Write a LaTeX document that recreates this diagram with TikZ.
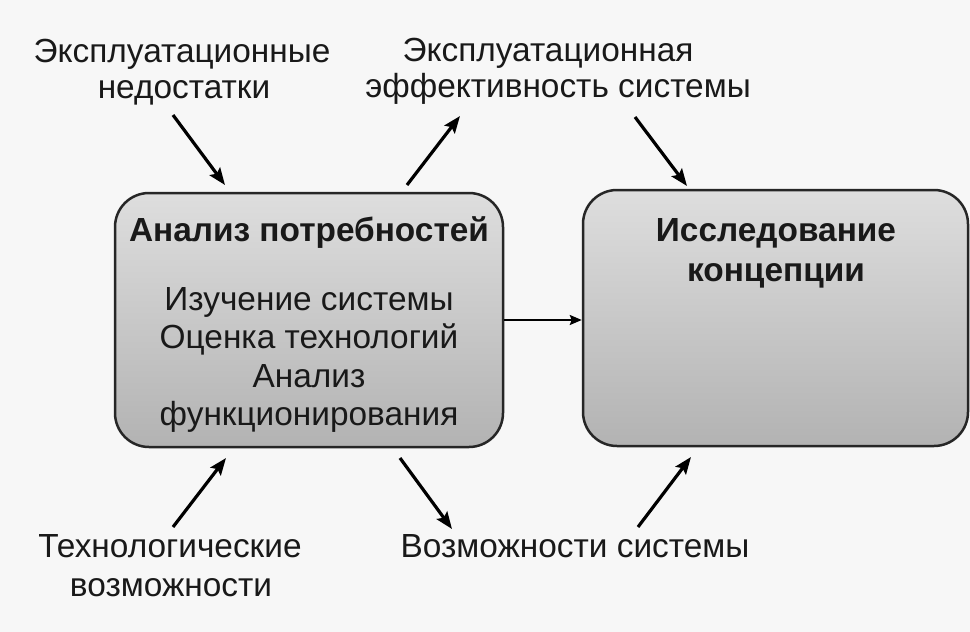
\documentclass[tikz,border=0pt]{standalone}
\usepackage{fontspec}
\setmainfont{Liberation Sans}
\usetikzlibrary{arrows.meta}

\begin{document}
\begin{tikzpicture}[x=1pt,y=-1pt,
		box/.style={draw=black!85, line width=2.5pt, rounded corners=34pt,
			top color=black!13, bottom color=black!30},
		arr/.style={line width=3.2pt, -{Stealth[length=17pt,width=13pt,inset=3pt]}},
		txt/.style={anchor=base, text=black!90, font=\fontsize{33.4}{40}\selectfont},
		head/.style={txt, font=\fontsize{33.4}{40}\selectfont\bfseries}]
	\useasboundingbox[fill=black!3] (0,0) rectangle (970,632);

	% boxes
	\node[box, minimum width=388pt, minimum height=254pt] (needs) at (309,320) {};
	\node[box, minimum width=385pt, minimum height=256pt] (concept) at (775.5,318) {};

	% box texts
	\draw	(309,241) node[head] (needstitle) {Анализ потребностей}
			(309,310) node[txt] (study) {Изучение системы}
			(309,348) node[txt] (techeval) {Оценка технологий}
			(309,387) node[txt] (analysis) {Анализ}
			(309,425) node[txt] (function) {функционирования};
	\draw	(776,241) node[head] (concepttitle) {Исследование}
			(776,281) node[head] (concepttitle2) {концепции};

	% outer labels
	\draw	(182,62) node[txt] (faults) {Эксплуатационные}
			(184,98) node[txt] (faults2) {недостатки};
	\draw	(548,61) node[txt] (effect) {Эксплуатационная}
			(558,97) node[txt] (effect2) {эффективность системы};
	\draw	(170,557) node[txt] (techposs) {Технологические}
			(171,596) node[txt] (techposs2) {возможности};
	\draw	(575,557) node[txt] (sysposs) {Возможности системы};

	% arrow ends
	\coordinate (faultsA) at (173,115);  \coordinate (faultsB) at (225,185);
	\coordinate (effectA) at (407,185);  \coordinate (effectB) at (460,116);
	\coordinate (conceptA) at (635,117); \coordinate (conceptB) at (687,186);
	\coordinate (techA) at (173,527);    \coordinate (techB) at (226,458);
	\coordinate (sysA) at (400,458);     \coordinate (sysB) at (452,529);
	\coordinate (inA) at (638,527);      \coordinate (inB) at (691,457);

	% arrows
	\draw[arr] (faultsA) -- (faultsB);
	\draw[arr] (effectA) -- (effectB);
	\draw[arr] (conceptA) -- (conceptB);
	\draw[arr] (techA) -- (techB);
	\draw[arr] (sysA) -- (sysB);
	\draw[arr] (inA) -- (inB);
	\draw[line width=2pt, -{Stealth[length=12pt,width=10pt,inset=2pt]}] (needs.east) -- (concept.west |- needs.east);
\end{tikzpicture}
\end{document}
